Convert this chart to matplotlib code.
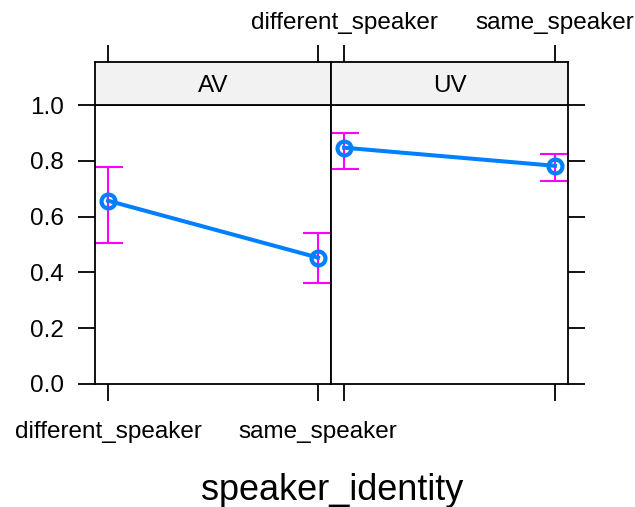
import numpy as np
import matplotlib
matplotlib.use("Agg")
import matplotlib.pyplot as plt

plt.rcParams['font.family'] = ['Liberation Sans', 'DejaVu Sans']

# effect estimates and 95% CI per modality
levels = ['different_speaker', 'same_speaker']
panels = ['AV', 'UV']
fit = {'AV': [0.657, 0.453], 'UV': [0.847, 0.782]}
lower = {'AV': [0.506, 0.363], 'UV': [0.772, 0.729]}
upper = {'AV': [0.779, 0.543], 'UV': [0.900, 0.824]}

line_col = '#0080FF'
ci_col = '#FF00FF'
W, H = 635, 507

fig = plt.figure(figsize=(W / 100, H / 100), dpi=100)

x = np.arange(1, 3)
xpad = 0.062
tick_len = 12.5
fs = 17.5

panel_x = [95, 331]
panel_w = [236, 237]
y0, y1, strip_top = 384, 105, 62

for i, p in enumerate(panels):
    ax = fig.add_axes([panel_x[i] / W, 1 - y0 / H, panel_w[i] / W, (y0 - y1) / H])
    st = fig.add_axes([panel_x[i] / W, 1 - y1 / H, panel_w[i] / W, (y1 - strip_top) / H])

    ax.errorbar(x, fit[p], yerr=[np.array(fit[p]) - np.array(lower[p]),
                                 np.array(upper[p]) - np.array(fit[p])],
                fmt='none', ecolor=ci_col, elinewidth=1.5, capsize=10.8, capthick=1.5, zorder=2)
    ax.plot(x, fit[p], color=line_col, lw=2.9, marker='o', ms=10, mfc='none',
            mec=line_col, mew=3, zorder=3, clip_on=False)

    ax.set_xlim(1 - xpad, 2 + xpad)
    ax.set_ylim(0, 1)
    ax.set_yticks(np.arange(0, 1.01, 0.2))
    ax.set_xticks(x)
    for sp in ax.spines.values():
        sp.set_linewidth(1.3)
    ax.tick_params(direction='out', length=tick_len, width=1.3, labelsize=fs)
    if i == 0:
        ax.set_xticklabels(levels)
        ax.tick_params(axis='x', pad=14)
        ax.set_yticklabels(['0.0', '0.2', '0.4', '0.6', '0.8', '1.0'])
        ax.tick_params(axis='y', left=True, right=False, pad=10)
    else:
        ax.set_xticklabels([])
        ax.tick_params(axis='y', left=False, right=True, labelleft=False)

    st.set_facecolor('#F2F2F2')
    st.set_xlim(1 - xpad, 2 + xpad)
    st.set_ylim(0, 1)
    st.set_yticks([])
    st.set_xticks(x)
    for sp in st.spines.values():
        sp.set_linewidth(1.3)
    st.tick_params(axis='x', direction='out', length=tick_len, width=1.3, labelsize=fs,
                   top=True, bottom=False, labelbottom=False, labeltop=(i == 1), pad=8)
    if i == 1:
        st.set_xticklabels(levels)
    st.text(0.5, 0.45, p, transform=st.transAxes, ha='center', va='center', fontsize=fs)

fig.text(332 / W, 1 - 490 / H, 'speaker_identity', ha='center', va='center', fontsize=26)

fig.savefig('out.png', dpi=100)
